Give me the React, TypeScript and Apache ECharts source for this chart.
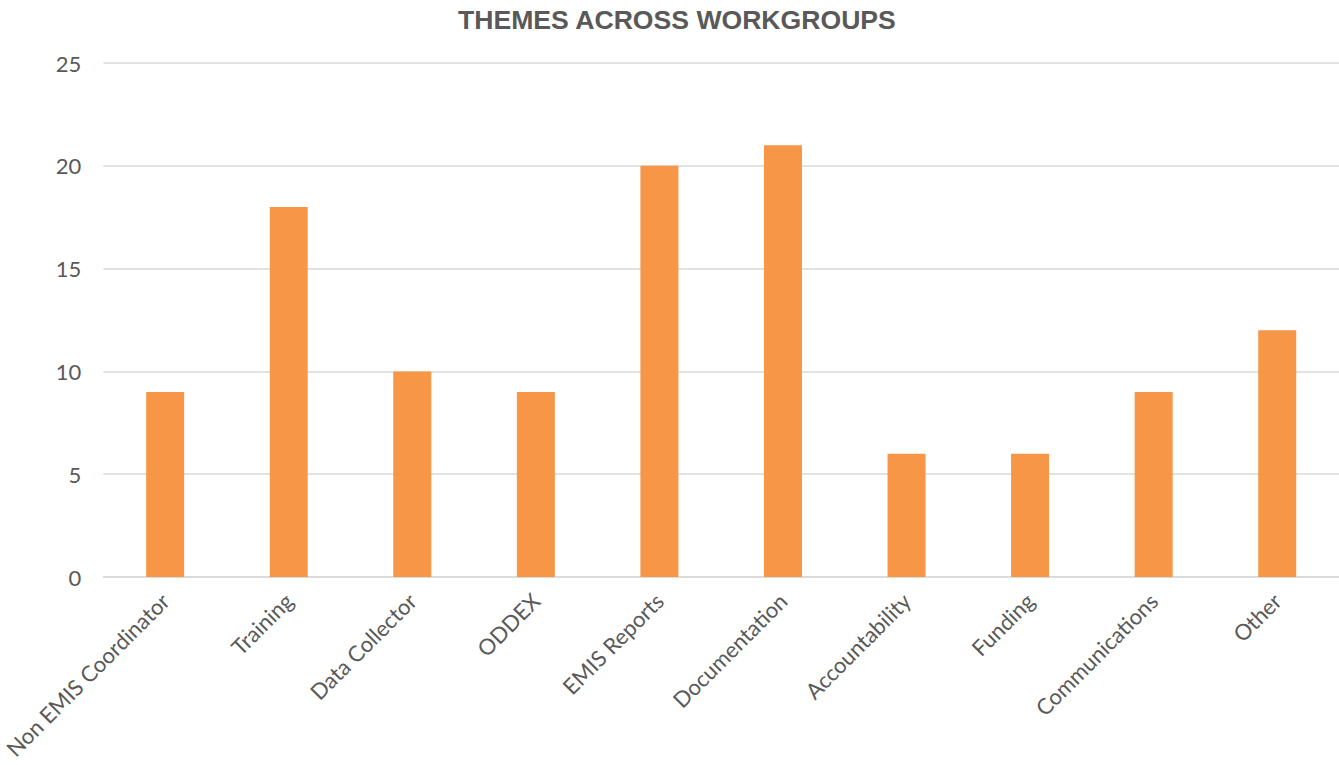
import React, { useEffect, useRef } from "react";
import * as echarts from "echarts";

const categories = [
  "Non EMIS Coordinator",
  "Training",
  "Data Collector",
  "ODDEX",
  "EMIS Reports",
  "Documentation",
  "Accountability",
  "Funding",
  "Communications",
  "Other",
];
const values = [9, 18, 10, 9, 20, 21, 6, 6, 9, 12];
const titleText = "THEMES ACROSS WORKGROUPS";

export default function App() {
  const ref = useRef<HTMLDivElement>(null);
  useEffect(() => {
    if (!ref.current) return;
    const chart = echarts.init(ref.current, undefined, { renderer: "svg" });
    chart.setOption({
      animation: false,
      backgroundColor: "#ffffff",
      title: {
        text: titleText,
        left: 453,
        top: 1,
        textStyle: {
          fontFamily: "Liberation Sans",
          fontWeight: "bold",
          fontSize: 26.6,
          color: "#595959",
        },
      },
      grid: { left: 102, right: 0, top: 63, bottom: 188, containLabel: false },
      xAxis: {
        type: "category",
        data: categories,
        axisLine: { show: true, lineStyle: { color: "#d9d9d9", width: 1.5 } },
        axisTick: { show: false },
        axisLabel: {
          rotate: 45,
          interval: 0,
          margin: 20,
          fontFamily: "Lato",
          fontSize: 22,
          color: "#595959",
        },
      },
      yAxis: {
        type: "value",
        min: 0,
        max: 25,
        interval: 5,
        axisLine: { show: false },
        axisTick: { show: false },
        splitLine: { lineStyle: { color: "#d9d9d9", width: 1.5 } },
        axisLabel: {
          margin: 22,
          fontFamily: "Lato",
          fontSize: 22,
          color: "#595959",
        },
      },
      series: [
        {
          type: "bar",
          data: values,
          barWidth: 38,
          itemStyle: { color: "#F79646" },
        },
      ],
    });
    return () => chart.dispose();
  }, []);
  return (
    <div
      ref={ref}
      style={{ position: "fixed", left: 0, top: 0, width: 1339, height: 765 }}
    />
  );
}
